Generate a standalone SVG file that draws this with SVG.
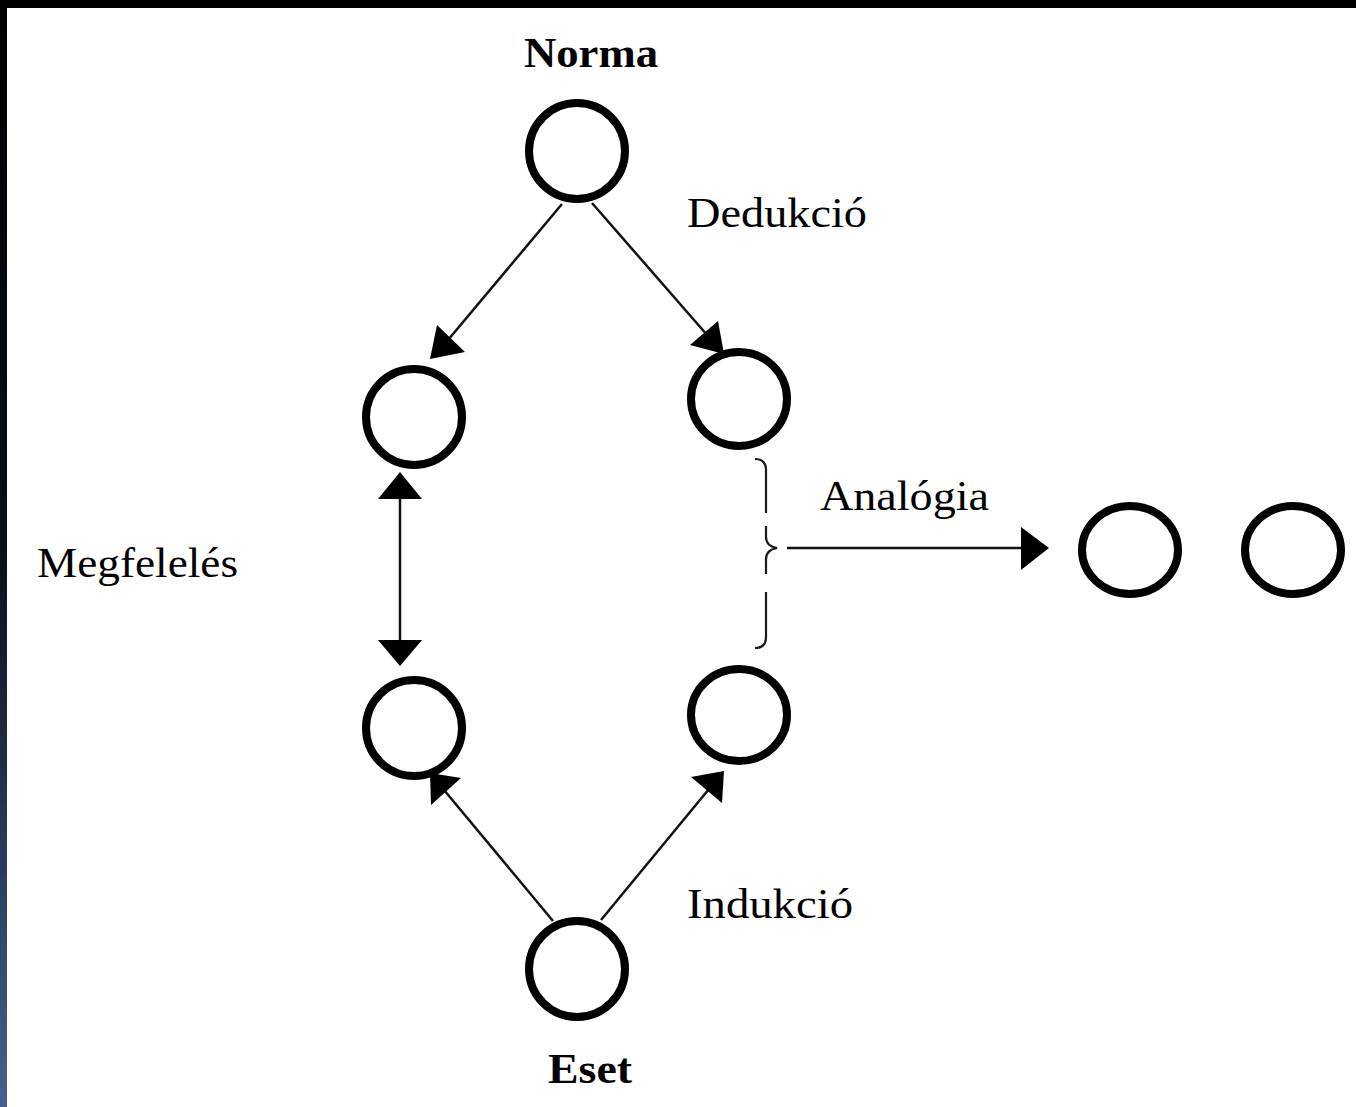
<svg xmlns="http://www.w3.org/2000/svg" width="1356" height="1107" viewBox="0 0 1356 1107">
<style>
.node{fill:none;stroke:#000;stroke-width:8}
.edge{stroke:#111;stroke-width:2.5;fill:none}
.head{fill:#000}
.brace{fill:none;stroke:#1a1a1a;stroke-width:2.2}
.lbl{font-family:"Liberation Serif","Times New Roman",serif;font-size:43px;fill:#000}
.b{font-weight:bold}
</style>
<defs>
<linearGradient id="lg" x1="0" y1="0" x2="0" y2="1">
<stop offset="0" stop-color="#000"/>
<stop offset="0.5" stop-color="#0a0f1a"/>
<stop offset="1" stop-color="#46608e"/>
</linearGradient>
</defs>
<rect width="1356" height="1107" fill="#fff"/>
<rect x="0" y="0" width="1356" height="8" fill="#000"/>
<rect x="0" y="0" width="7" height="1107" fill="url(#lg)"/>

<g id="connectors">
<line class="edge" x1="562" y1="204" x2="448" y2="340"/>
<polygon class="head" points="430,359 437,325 465,352"/>
<line class="edge" x1="592" y1="203" x2="708" y2="336"/>
<polygon class="head" points="724,354 690,345 718,321"/>
<line class="edge" x1="400" y1="495" x2="400" y2="645"/>
<polygon class="head" points="400,472 378,499 422,499"/>
<polygon class="head" points="400,666 378,640 422,640"/>
<line class="edge" x1="553" y1="921" x2="444" y2="790"/>
<polygon class="head" points="430,773 431,805 461,778"/>
<line class="edge" x1="601" y1="920" x2="709" y2="789"/>
<polygon class="head" points="724,771 691,777 722,803"/>
<line class="edge" x1="787" y1="548" x2="1024" y2="548"/>
<polygon class="head" points="1049,548 1021,527 1021,570"/>
<path class="brace" d="M755,459 Q766,459 766,470 L766,513"/>
<path class="brace" d="M766,526 L766,537 Q766,546 777,548 Q766,550 766,559 L766,574"/>
<path class="brace" d="M766,592 L766,637 Q766,648 755,648"/>
</g>

<g id="n-norma"><circle class="node" cx="577" cy="151" r="48"/><text class="lbl b" x="524" y="67" textLength="134" lengthAdjust="spacingAndGlyphs">Norma</text></g>
<g id="n-left-top"><circle class="node" cx="414" cy="417" r="48"/></g>
<g id="n-right-top"><ellipse class="node" cx="739" cy="399" rx="48" ry="47"/></g>
<g id="n-left-bottom"><circle class="node" cx="414" cy="728" r="48"/></g>
<g id="n-right-bottom"><ellipse class="node" cx="739" cy="715" rx="48" ry="46"/></g>
<g id="n-eset"><circle class="node" cx="577" cy="969" r="48"/><text class="lbl b" x="548" y="1083" textLength="84" lengthAdjust="spacingAndGlyphs">Eset</text></g>
<g id="n-analog1"><ellipse class="node" cx="1130" cy="550" rx="48" ry="44"/></g>
<g id="n-analog2"><ellipse class="node" cx="1293" cy="550" rx="48" ry="44"/></g>

<g id="labels">
<text class="lbl" x="687" y="227" textLength="180" lengthAdjust="spacingAndGlyphs">Dedukció</text>
<text class="lbl" x="820" y="510" textLength="169" lengthAdjust="spacingAndGlyphs">Analógia</text>
<text class="lbl" x="37" y="577" textLength="201" lengthAdjust="spacingAndGlyphs">Megfelelés</text>
<text class="lbl" x="687" y="918" textLength="166" lengthAdjust="spacingAndGlyphs">Indukció</text>
</g>
</svg>
